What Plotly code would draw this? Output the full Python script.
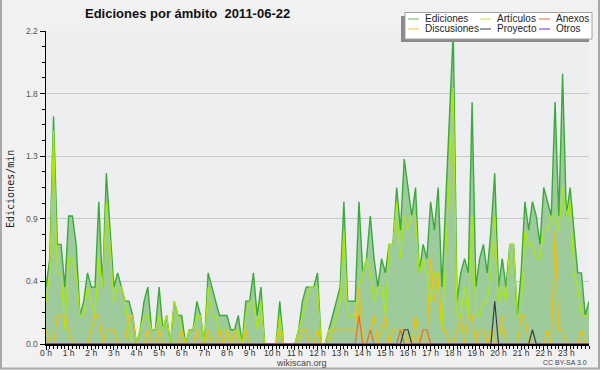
import plotly.graph_objects as go

# ---- data: edits per minute, 10-minute bins from 00:00 to 24:00 ----
ediciones = [
    0.4, 0.6, 1.6, 0.7, 0.7, 0.4, 0.9, 0.9, 0.7, 0.2, 0.3, 0.5,
    0.4, 0.4, 1.0, 0.4, 1.2, 0.8, 0.4, 0.5, 0.4, 0.3, 0.3, 0.2,
    0.0, 0.1, 0.3, 0.4, 0.1, 0.1, 0.4, 0.1, 0.2, 0.0, 0.3, 0.2,
    0.2, 0.0, 0.1, 0.1, 0.3, 0.2, 0.0, 0.5, 0.4, 0.3, 0.2, 0.2,
    0.2, 0.1, 0.1, 0.2, 0.0, 0.3, 0.3, 0.5, 0.2, 0.4, 0.0, 0.0,
    0.0, 0.0, 0.3, 0.0, 0.0, 0.0, 0.0, 0.1, 0.3, 0.4, 0.4, 0.4,
    0.5, 0.0, 0.0, 0.1, 0.2, 0.3, 0.4, 1.0, 0.3, 0.3, 0.3, 1.0,
    0.5, 0.6, 0.9, 0.6, 0.4, 0.6, 0.5, 0.7, 0.7, 1.1, 0.8, 1.3,
    1.1, 0.9, 1.1, 0.5, 0.7, 0.6, 1.0, 0.8, 1.1, 0.4, 1.0, 1.6,
    2.2, 0.3, 0.5, 0.6, 0.5, 1.7, 0.4, 0.6, 0.7, 0.5, 0.8, 1.2,
    0.4, 0.6, 0.4, 0.7, 0.7, 0.2, 0.5, 1.0, 0.8, 1.0, 0.9, 0.7,
    1.1, 1.0, 0.9, 1.7, 0.9, 1.9, 0.9, 1.1, 0.8, 0.5, 0.5, 0.2,
    0.3,
]
articulos = [
    0.3, 0.5, 1.5, 0.5, 0.5, 0.1, 0.6, 0.6, 0.5, 0.2, 0.2, 0.4,
    0.3, 0.2, 0.6, 0.4, 1.0, 0.7, 0.3, 0.4, 0.4, 0.3, 0.1, 0.0,
    0.0, 0.1, 0.2, 0.2, 0.1, 0.1, 0.2, 0.1, 0.2, 0.0, 0.3, 0.2,
    0.1, 0.0, 0.1, 0.1, 0.2, 0.2, 0.0, 0.4, 0.2, 0.2, 0.1, 0.1,
    0.1, 0.0, 0.0, 0.1, 0.0, 0.2, 0.3, 0.3, 0.1, 0.3, 0.0, 0.0,
    0.0, 0.0, 0.2, 0.0, 0.0, 0.0, 0.0, 0.1, 0.2, 0.3, 0.4, 0.4,
    0.4, 0.0, 0.0, 0.1, 0.1, 0.2, 0.3, 0.8, 0.2, 0.2, 0.2, 0.4,
    0.5, 0.6, 0.5, 0.3, 0.4, 0.4, 0.2, 0.7, 0.7, 1.0, 0.6, 0.9,
    0.8, 0.9, 0.9, 0.5, 0.6, 0.5, 0.3, 0.5, 0.5, 0.1, 0.6, 1.2,
    1.8, 0.2, 0.2, 0.4, 0.2, 0.9, 0.2, 0.2, 0.3, 0.3, 0.5, 0.9,
    0.3, 0.4, 0.3, 0.7, 0.7, 0.2, 0.2, 0.8, 0.7, 0.7, 0.6, 0.6,
    0.8, 0.8, 0.9, 0.9, 0.8, 1.1, 0.9, 1.0, 0.5, 0.4, 0.2, 0.2,
    0.2,
]
discusiones = [
    0.1, 0.0, 0.0, 0.2, 0.2, 0.2, 0.1, 0.0, 0.0, 0.0, 0.0, 0.0,
    0.1, 0.2, 0.2, 0.0, 0.1, 0.1, 0.1, 0.0, 0.0, 0.0, 0.2, 0.2,
    0.0, 0.0, 0.0, 0.1, 0.0, 0.0, 0.1, 0.0, 0.0, 0.0, 0.0, 0.0,
    0.1, 0.0, 0.0, 0.0, 0.1, 0.0, 0.0, 0.1, 0.0, 0.0, 0.1, 0.0,
    0.1, 0.0, 0.1, 0.0, 0.0, 0.1, 0.0, 0.0, 0.0, 0.0, 0.0, 0.0,
    0.0, 0.0, 0.1, 0.0, 0.0, 0.0, 0.0, 0.0, 0.1, 0.1, 0.0, 0.0,
    0.1, 0.0, 0.0, 0.0, 0.1, 0.1, 0.1, 0.1, 0.1, 0.1, 0.1, 0.4,
    0.0, 0.0, 0.1, 0.2, 0.0, 0.1, 0.2, 0.0, 0.1, 0.1, 0.1, 0.1,
    0.0, 0.0, 0.2, 0.0, 0.0, 0.0, 0.6, 0.3, 0.5, 0.1, 0.1, 0.0,
    0.0, 0.1, 0.2, 0.0, 0.2, 0.2, 0.0, 0.1, 0.1, 0.0, 0.1, 0.0,
    0.0, 0.2, 0.0, 0.0, 0.0, 0.0, 0.2, 0.2, 0.0, 0.0, 0.0, 0.0,
    0.0, 0.1, 0.0, 0.8, 0.1, 0.1, 0.0, 0.0, 0.0, 0.0, 0.1, 0.0,
    0.0,
]
anexos = [
    0, 0, 0, 0, 0, 0, 0, 0, 0, 0, 0, 0,
    0, 0, 0, 0, 0, 0, 0, 0, 0, 0, 0, 0,
    0, 0, 0, 0, 0, 0, 0, 0, 0, 0, 0, 0,
    0, 0, 0, 0, 0, 0, 0, 0, 0, 0, 0, 0,
    0, 0, 0, 0, 0, 0, 0, 0, 0, 0, 0, 0,
    0, 0, 0, 0, 0, 0, 0, 0, 0, 0, 0, 0,
    0, 0, 0, 0, 0, 0, 0, 0, 0, 0, 0, 0.2,
    0, 0, 0.1, 0, 0, 0, 0, 0, 0, 0, 0.1, 0,
    0, 0, 0, 0, 0.1, 0.1, 0, 0, 0, 0, 0, 0,
    0, 0, 0, 0, 0, 0, 0, 0, 0, 0, 0, 0,
    0, 0, 0, 0, 0, 0, 0, 0, 0, 0, 0, 0,
    0, 0, 0, 0, 0, 0, 0, 0, 0, 0, 0, 0,
    0,
]
proyecto = [
    0, 0, 0, 0, 0, 0, 0, 0, 0, 0, 0, 0,
    0, 0, 0, 0, 0, 0, 0, 0, 0, 0, 0, 0,
    0, 0, 0, 0, 0, 0, 0, 0, 0, 0, 0, 0,
    0, 0, 0, 0, 0, 0, 0, 0, 0, 0, 0, 0,
    0, 0, 0, 0, 0, 0, 0, 0, 0, 0, 0, 0,
    0, 0, 0, 0, 0, 0, 0, 0, 0, 0, 0, 0,
    0, 0, 0, 0, 0, 0, 0, 0, 0, 0, 0, 0,
    0, 0, 0, 0, 0, 0, 0, 0, 0, 0, 0, 0.1,
    0.1, 0, 0, 0, 0, 0, 0, 0, 0, 0, 0, 0,
    0, 0, 0, 0, 0, 0, 0, 0, 0, 0, 0, 0.3,
    0, 0, 0, 0, 0, 0, 0, 0, 0, 0.1, 0, 0,
    0, 0, 0, 0, 0, 0, 0, 0, 0, 0, 0, 0,
    0,
]
otros = [
    0, 0, 0, 0, 0, 0, 0, 0, 0, 0, 0, 0,
    0, 0, 0, 0, 0, 0, 0, 0, 0, 0, 0, 0,
    0, 0, 0, 0, 0, 0, 0, 0, 0, 0, 0, 0,
    0, 0, 0, 0, 0, 0, 0, 0, 0, 0, 0, 0,
    0, 0, 0, 0, 0, 0, 0, 0, 0, 0, 0, 0,
    0, 0, 0, 0, 0, 0, 0, 0, 0, 0, 0, 0,
    0, 0, 0, 0, 0, 0, 0, 0, 0, 0, 0, 0,
    0, 0, 0, 0, 0, 0, 0, 0, 0, 0, 0, 0,
    0, 0, 0, 0, 0, 0, 0, 0, 0, 0, 0, 0,
    0, 0, 0, 0, 0, 0, 0, 0, 0, 0, 0, 0,
    0, 0, 0, 0, 0, 0, 0, 0, 0, 0, 0, 0,
    0, 0, 0, 0, 0, 0, 0, 0, 0, 0, 0, 0,
    0,
]

hour_ticks = list(range(24))
hour_labels = [f"{h} h" for h in hour_ticks]
y_tickvals = [0.0, 0.44, 0.88, 1.32, 1.76, 2.2]
y_ticktext = ["0.0", "0.4", "0.9", "1.3", "1.8", "2.2"]

hours = [k / 6 for k in range(len(ediciones))]  # time of each 10-minute bin, in hours

W, H = 600, 370
L, R, T, B = 46, 11, 31, 26
PW, PH = W - L - R, H - T - B


def px(x):
    return (x - L) / PW


def py(y):
    return (H - B - y) / PH


FONT = "Liberation Sans"

series = [
    ("Artículos", articulos, "#aeea00"),
    ("Discusiones", discusiones, "#f2c200"),
    ("Anexos", anexos, "#f06a24"),
    ("Proyecto", proyecto, "#3c3c3c"),
    ("Otros", otros, "#9933ee"),
]

fig = go.Figure()
fig.add_trace(go.Scatter(
    x=hours, y=ediciones, mode="lines", name="Ediciones",
    line=dict(color="#3aaa3a", width=1.4),
    fill="tozeroy", fillcolor="#9ecb9c", showlegend=False, hoverinfo="skip",
))
for name, vals, col in series:
    fig.add_trace(go.Scatter(
        x=hours, y=vals, mode="lines", name=name,
        line=dict(color=col, width=1.2), showlegend=False, hoverinfo="skip",
    ))

shapes = []
annotations = []

# manual legend box with shadow
shapes.append(dict(type="rect", xref="paper", yref="paper", layer="above",
                   x0=px(401), x1=px(589), y0=py(42), y1=py(16),
                   fillcolor="#8a8a8a", line=dict(width=0)))
shapes.append(dict(type="rect", xref="paper", yref="paper", layer="above",
                   x0=px(405), x1=px(592), y0=py(39), y1=py(12.5),
                   fillcolor="#ffffff", line=dict(color="#a0a0a0", width=1)))

legend_items = [
    ("Ediciones", "#80d080", 408, 19),
    ("Artículos", "#cdee66", 480, 19),
    ("Anexos", "#f08a5a", 539, 19),
    ("Discusiones", "#f5d466", 408, 29),
    ("Proyecto", "#666666", 480, 29),
    ("Otros", "#9a55ee", 539, 29),
]
for text, col, sx, sy in legend_items:
    shapes.append(dict(type="line", xref="paper", yref="paper", layer="above",
                       x0=px(sx), x1=px(sx + 11), y0=py(sy), y1=py(sy),
                       line=dict(color=col, width=1.3)))
    annotations.append(dict(xref="paper", yref="paper", x=px(sx + 15), y=py(sy),
                            xanchor="left", yanchor="middle", showarrow=False,
                            text=text, font=dict(family=FONT, size=10, color="#222")))

# y axis title
annotations.append(dict(xref="paper", yref="paper", x=px(10), y=py(189),
                        xanchor="center", yanchor="middle", showarrow=False,
                        textangle=-90, text="Ediciones/min",
                        font=dict(family="DejaVu Sans Mono", size=10, color="#222")))
# footer texts
annotations.append(dict(xref="paper", yref="paper", x=px(301), y=py(362.5),
                        xanchor="center", yanchor="middle", showarrow=False,
                        text="wikiscan.org", font=dict(family=FONT, size=9, color="#444")))
annotations.append(dict(xref="paper", yref="paper", x=px(589), y=py(362.5),
                        xanchor="right", yanchor="middle", showarrow=False,
                        text="CC BY-SA 3.0", font=dict(family=FONT, size=7, color="#444")))

# outer frame (left, bottom, right)
for (x0, y0, x1, y1) in [(1, 0, 1, 369), (0, 368.5, 600, 368.5), (599, 0, 599, 369)]:
    shapes.append(dict(type="line", xref="paper", yref="paper", layer="above",
                       x0=px(x0), x1=px(x1), y0=py(y0), y1=py(y1),
                       line=dict(color="#a8a8a8", width=2)))

fig.update_layout(
    width=W, height=H,
    margin=dict(l=L, r=R, t=T, b=B, pad=0),
    paper_bgcolor="#f1f1f1", plot_bgcolor="#eceef0",
    title=dict(text="<b>Ediciones por ámbito  2011-06-22</b>",
               xref="container", yref="container", x=85 / W, xanchor="left",
               y=1 - 13.5 / H, yanchor="middle",
               font=dict(family=FONT, size=13, color="#111")),
    shapes=shapes, annotations=annotations,
    showlegend=False,
)
fig.update_xaxes(
    range=[0, 24], tickvals=hour_ticks, ticktext=hour_labels,
    ticks="outside", ticklen=4, tickwidth=1, tickcolor="#000",
    ticklabelstandoff=-4,
    showline=True, linecolor="#000", linewidth=1.5, showgrid=False, zeroline=False,
    tickfont=dict(family=FONT, size=8.5, color="#333"),
    minor=dict(dtick=1 / 6, tick0=0, ticks="outside", ticklen=3, tickcolor="#000", showgrid=False),
    layer="above traces", fixedrange=True,
)
fig.update_yaxes(
    range=[0, 2.2], tickvals=y_tickvals, ticktext=y_ticktext,
    ticks="outside", ticklen=5, tickwidth=1, tickcolor="#000",
    showline=True, linecolor="#000", linewidth=1.5,
    showgrid=True, gridcolor="#c9c9c9", gridwidth=1, zeroline=False,
    tickfont=dict(family=FONT, size=8.5, color="#555"),
    minor=dict(dtick=0.11, tick0=0, ticks="outside", ticklen=3, tickcolor="#000", showgrid=False),
    layer="above traces", fixedrange=True,
)

fig.write_html(
    "out.html",
    config={"displayModeBar": False, "staticPlot": True},
    post_script="document.body.style.margin='0';document.body.style.padding='0';",
)
